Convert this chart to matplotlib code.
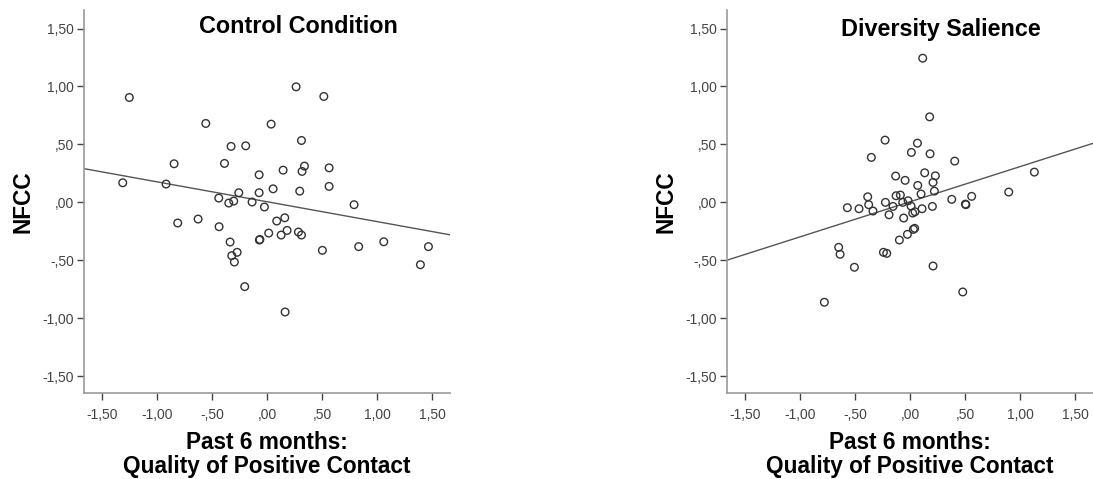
import numpy as np
import matplotlib
matplotlib.use("Agg")
import matplotlib.pyplot as plt

plt.rcParams['font.family'] = ['Liberation Sans', 'DejaVu Sans']

# Control Condition data
ctrl_x = [-1.255, 0.261, 0.513, -0.56, 0.034, -0.33, -0.197, 0.31, -0.848, -0.39,
          -0.075, 0.143, 0.315, 0.337, 0.561, -1.315, -0.921, -0.26, -0.075, 0.052,
          0.294, 0.561, -0.442, -0.351, -0.306, -0.139, -0.027, 0.788, -0.815, -0.63,
          -0.439, 0.085, 0.158, -0.339, -0.073, -0.068, 0.012, 0.125, 0.179, 0.282,
          0.31, -0.275, -0.324, -0.3, 0.5, 0.83, 1.058, 1.464, 1.391, -0.206, 0.161]
ctrl_y = [0.905, 0.997, 0.914, 0.681, 0.675, 0.483, 0.488, 0.534, 0.333, 0.336,
          0.238, 0.278, 0.267, 0.313, 0.298, 0.169, 0.158, 0.083, 0.083, 0.117,
          0.097, 0.138, 0.037, -0.006, 0.011, 0.003, -0.04, -0.02, -0.178, -0.144,
          -0.21, -0.161, -0.133, -0.342, -0.325, -0.32, -0.265, -0.282, -0.242, -0.256,
          -0.282, -0.431, -0.46, -0.515, -0.414, -0.382, -0.34, -0.382, -0.538, -0.727, -0.946]

# Diversity Salience data
div_x = [0.112, 0.175, -0.23, 0.064, 0.009, 0.179, -0.355, 0.403, -0.134, -0.048,
         0.13, 0.227, 0.206, 0.067, 0.218, 0.097, 1.127, 0.894, 0.557, -0.388,
         -0.13, -0.091, 0.376, -0.573, -0.467, -0.379, -0.34, -0.227, -0.158, -0.07,
         -0.021, 0.006, -0.194, -0.061, 0.021, 0.042, 0.106, 0.2, 0.5, 0.505,
         0.027, 0.039, -0.027, -0.1, -0.245, -0.215, -0.652, -0.639, -0.509, 0.206,
         0.476, -0.782]
div_y = [1.244, 0.738, 0.537, 0.511, 0.431, 0.419, 0.388, 0.356, 0.227, 0.19,
         0.255, 0.229, 0.172, 0.146, 0.097, 0.072, 0.261, 0.089, 0.052, 0.048,
         0.057, 0.063, 0.026, -0.046, -0.055, -0.02, -0.075, 0.0, -0.035, 0.0,
         0.014, -0.032, -0.107, -0.135, -0.092, -0.081, -0.055, -0.035, -0.015, -0.02,
         -0.233, -0.224, -0.276, -0.325, -0.431, -0.44, -0.388, -0.448, -0.56, -0.549,
         -0.773, -0.862]

titles = ["Control Condition", "Diversity Salience"]
tick_vals = [-1.5, -1.0, -0.5, 0.0, 0.5, 1.0, 1.5]
tick_labels = ["-1,50", "-1,00", "-,50", ",00", ",50", "1,00", "1,50"]
x_label_lines = ["Past 6 months:", "Quality of Positive Contact"]
y_label = "NFCC"

W, H = 1093, 479
fig = plt.figure(figsize=(W / 100, H / 100), dpi=100)

panels = [(ctrl_x, ctrl_y, 84, 33), (div_x, div_y, 727, 36)]
xlim = (-1.667, 1.66)
ylim = (-1.645, 1.66)

for i, (xs, ys, left_px, title_base) in enumerate(panels):
    ax = fig.add_axes([left_px / W, (H - 393) / H, 366 / W, 383 / H])
    ax.scatter(xs, ys, s=30, facecolors='none', edgecolors='#333333', linewidths=1.0, zorder=3)
    b, a = np.polyfit(xs, ys, 1)
    lx = np.array(xlim)
    ax.plot(lx, a + b * lx, color='#555555', lw=1.0, zorder=2)
    ax.set_xlim(*xlim)
    ax.set_ylim(*ylim)
    ax.set_xticks(tick_vals)
    ax.set_xticklabels(tick_labels)
    ax.set_yticks(tick_vals)
    ax.set_yticklabels(tick_labels)
    for s in ['top', 'right']:
        ax.spines[s].set_visible(False)
    for s in ['left', 'bottom']:
        ax.spines[s].set_color('#999999')
        ax.spines[s].set_linewidth(1.2)
    ax.tick_params(axis='both', direction='out', length=5, width=1, color='#444444',
                   labelsize=10, labelcolor='#444444', pad=2)
    ax.tick_params(axis='x', pad=6)
    ax.set_facecolor('none')
    cx = left_px + 183
    fig.text((cx + 31) / W, 1 - title_base / H, titles[i], ha='center', va='baseline',
             fontsize=16.8, fontweight='bold')
    fig.text(cx / W, 1 - 449 / H, x_label_lines[0], ha='center', va='baseline',
             fontsize=16.3, fontweight='bold')
    fig.text(cx / W, 1 - 473 / H, x_label_lines[1], ha='center', va='baseline',
             fontsize=16.3, fontweight='bold')
    fig.text((left_px - 61) / W, 1 - 202 / H, y_label, ha='center', va='center',
             rotation=90, fontsize=16.3, fontweight='bold')

fig.savefig("out.png", dpi=100)
